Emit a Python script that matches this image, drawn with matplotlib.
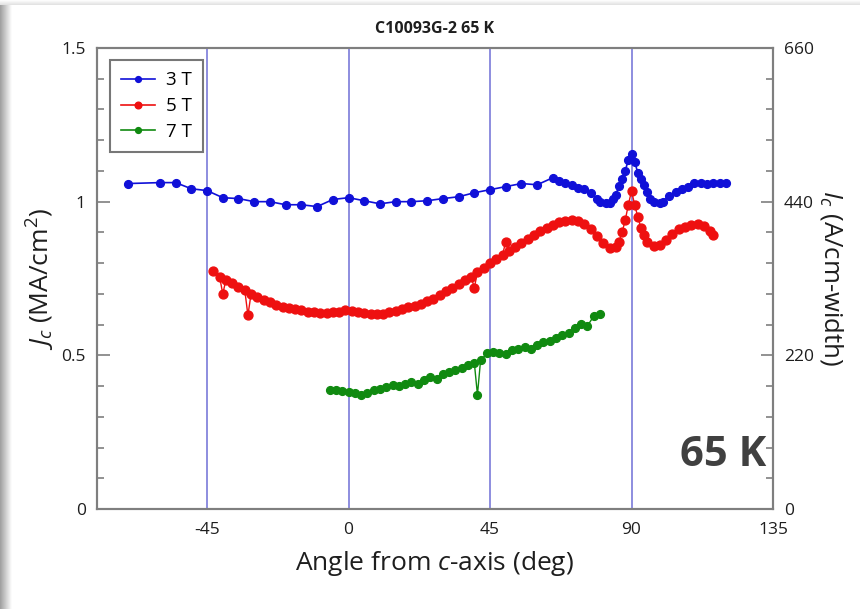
import numpy as np
import matplotlib
matplotlib.use("Agg")
import matplotlib.pyplot as plt
from matplotlib.ticker import MultipleLocator, FixedLocator

# ---------------- data ----------------
angle_3T = [-70, -60, -55, -50, -45, -40, -35, -30, -25, -20, -15, -10, -5, 0, 5, 10, 15, 20, 25,
            30, 35, 40, 45, 50, 55, 60, 65, 67, 69, 71, 73, 75, 77, 79, 80, 82, 83, 84, 85, 86,
            87, 88, 89, 90, 91, 92, 93, 94, 95, 96, 97, 99, 100, 102, 104, 106, 108, 110, 112,
            114, 116, 118, 120]
jc_3T = [1.059, 1.062, 1.062, 1.042, 1.036, 1.013, 1.010, 1.000, 1.000, 0.990, 0.990, 0.984, 1.007,
         1.013, 1.003, 0.993, 1.000, 1.000, 1.003,
         1.010, 1.016, 1.029, 1.039, 1.049, 1.059, 1.055, 1.078, 1.068, 1.062, 1.055, 1.046, 1.040,
         1.029, 1.010, 1.000, 0.997, 0.997, 1.010, 1.023, 1.050, 1.075, 1.100, 1.137, 1.155, 1.130,
         1.094, 1.075, 1.055, 1.030, 1.010, 1.000, 0.997, 1.000, 1.020, 1.030, 1.040, 1.049, 1.060,
         1.062, 1.059, 1.060, 1.062, 1.060]

angle_5T = [-43, -41, -40, -39, -37, -35, -33, -32, -31, -29, -27, -25, -23, -21, -19, -17, -15, -13,
            -11, -9, -7, -5, -3, -1, 1, 3, 5, 7, 9, 11, 13, 15, 17, 19, 21, 23, 25, 27, 29, 31, 33,
            35, 37, 39, 40, 41, 43, 45, 47, 49, 50, 51, 53, 55, 57, 59, 61, 63, 65, 67, 69, 71, 73,
            75, 77, 79, 81, 83, 85, 86, 87, 88, 89, 90, 91, 92, 93, 94, 95, 97, 99, 101, 103, 105,
            107, 109, 111, 113, 115, 116]
jc_5T = [0.775, 0.755, 0.700, 0.745, 0.735, 0.722, 0.712, 0.630, 0.700, 0.690, 0.680, 0.672, 0.665,
         0.658, 0.654, 0.650, 0.646, 0.642, 0.640, 0.638, 0.639, 0.640, 0.642, 0.648, 0.645, 0.640,
         0.638, 0.636, 0.634, 0.636, 0.640, 0.645, 0.650, 0.656, 0.662, 0.668, 0.676, 0.684, 0.695,
         0.708, 0.720, 0.732, 0.744, 0.756, 0.720, 0.770, 0.785, 0.800, 0.815, 0.828, 0.870, 0.840,
         0.852, 0.866, 0.880, 0.893, 0.905, 0.915, 0.925, 0.933, 0.938, 0.940, 0.936, 0.926, 0.910,
         0.888, 0.866, 0.850, 0.852, 0.870, 0.900, 0.940, 0.990, 1.035, 0.990, 0.950, 0.915, 0.890,
         0.870, 0.855, 0.858, 0.875, 0.895, 0.910, 0.918, 0.925, 0.928, 0.920, 0.905, 0.890]

angle_7T = [-6, -4, -2, 0, 2, 4, 6, 8, 10, 12, 14, 16, 18, 20, 22, 24, 26, 28, 30, 32, 34, 36, 38,
            40, 41, 42, 44, 46, 48, 50, 52, 54, 56, 58, 60, 62, 64, 66, 68, 70, 72, 74, 76, 78, 80]
jc_7T = [0.388, 0.386, 0.384, 0.382, 0.378, 0.372, 0.378, 0.386, 0.392, 0.396, 0.404, 0.400, 0.408,
         0.414, 0.408, 0.420, 0.428, 0.424, 0.440, 0.446, 0.452, 0.460, 0.468, 0.476, 0.372, 0.484,
         0.506, 0.512, 0.508, 0.504, 0.516, 0.520, 0.526, 0.522, 0.534, 0.542, 0.548, 0.556, 0.566,
         0.574, 0.590, 0.602, 0.596, 0.628, 0.636]

series_labels = ["3 T", "5 T", "7 T"]
series_colors = ["#1010d8", "#ee1010", "#108a10"]
ref_angles = [-45, 0, 45, 90]
x_ticks = [-45, 0, 45, 90, 135]
left_ticks = [0, 0.5, 1, 1.5]
left_tick_labels = ["0", "0.5", "1", "1.5"]
right_ticks = [0, 220, 440, 660]
right_tick_labels = ["0", "220", "440", "660"]

# ---------------- figure ----------------
FONT = ['Open Sans', 'DejaVu Sans']
plt.rcParams['font.family'] = FONT
plt.rcParams['mathtext.fontset'] = 'custom'
plt.rcParams['mathtext.it'] = 'Open Sans:italic'
plt.rcParams['mathtext.rm'] = 'Open Sans'
fig = plt.figure(figsize=(8.6, 6.09), dpi=100)
fig.patch.set_facecolor("white")

# slide-like shadow on left and top edges
grad = np.linspace(0.62, 1.0, 64)[None, :]
ax_sh = fig.add_axes([0, 0, 12 / 860, 1])
ax_sh.imshow(np.repeat(grad, 2, axis=0), cmap="gray", vmin=0, vmax=1, aspect="auto",
             extent=[0, 1, 0, 1])
ax_sh.axis("off")
ax_sht = fig.add_axes([0, 1 - 5 / 609, 1, 5 / 609])
ax_sht.imshow(np.repeat(np.linspace(1.0, 0.88, 16)[:, None], 2, axis=1), cmap="gray", vmin=0,
              vmax=1, aspect="auto", extent=[0, 1, 0, 1])
ax_sht.axis("off")

ax = fig.add_axes([97 / 860, 100 / 609, 676 / 860, 461 / 609])
spine_col = "#7f7f7f"
txt_col = "#1e1e1e"

for a in ref_angles:
    ax.axvline(a, color="#6f6fd6", lw=1.1, zorder=1)

ax.plot(angle_3T, jc_3T, "-o", color=series_colors[0], ms=5.6, lw=1.2, label=series_labels[0], zorder=3)
ax.plot(angle_5T, jc_5T, "-o", color=series_colors[1], ms=6.4, lw=1.0, label=series_labels[1], zorder=3)
ax.plot(angle_7T, jc_7T, "-o", color=series_colors[2], ms=5.6, lw=1.0, label=series_labels[2], zorder=3)

ax.set_xlim(-80, 135)
ax.set_ylim(0, 1.5)
ax.xaxis.set_major_locator(FixedLocator(x_ticks))
ax.set_xticklabels([str(v) for v in x_ticks])
ax.yaxis.set_major_locator(FixedLocator(left_ticks))
ax.set_yticklabels(left_tick_labels)
ax.yaxis.set_minor_locator(MultipleLocator(0.1))
ax.tick_params(axis="x", length=0, labelsize=12.5, pad=9, colors=txt_col)
ax.tick_params(axis="y", which="both", direction="in", color=spine_col, labelsize=12.5,
               labelcolor=txt_col, pad=8)
ax.tick_params(axis="y", which="major", length=9, width=1.2)
ax.tick_params(axis="y", which="minor", length=5, width=1.2)
for s in ax.spines.values():
    s.set_color(spine_col)
    s.set_linewidth(1.5)

ax2 = ax.twinx()
ax2.set_ylim(0, 660)
ax2.yaxis.set_major_locator(FixedLocator(right_ticks))
ax2.set_yticklabels(right_tick_labels)
ax2.yaxis.set_minor_locator(MultipleLocator(44))
ax2.tick_params(axis="y", which="both", direction="in", color=spine_col, labelsize=12.5,
                labelcolor=txt_col, pad=8)
ax2.tick_params(axis="y", which="major", length=9, width=1.2)
ax2.tick_params(axis="y", which="minor", length=5, width=1.2)
for s in ax2.spines.values():
    s.set_color(spine_col)
    s.set_linewidth(1.5)

ax.set_xlabel("Angle from $c$-axis (deg)", fontsize=19, color=txt_col, labelpad=8)
ax.set_ylabel(r"$J_c$ (MA/cm$^2$)", fontsize=19, color=txt_col, labelpad=3)
ax2.set_ylabel(r"$I_c$ (A/cm-width)", fontsize=18.5, color=txt_col, rotation=-90, labelpad=22)

ax.set_title("C10093G-2 65 K", fontsize=11.5, fontweight="bold", color=txt_col, pad=11)

leg = ax.legend(loc="upper left", bbox_to_anchor=(0.019, 0.974), borderaxespad=0, fontsize=13.5,
                frameon=True, fancybox=False, edgecolor="#555555", handlelength=1.8,
                handletextpad=0.6, borderpad=0.6, labelspacing=0.42, markerscale=0.75)
leg.get_frame().set_linewidth(1.5)
for h in leg.get_lines():
    h.set_linewidth(1.2)

fig.text(766 / 860, 1 - 456 / 609, "65 K", fontsize=30, fontweight="bold", color="#404040",
         family=["Open Sans", "DejaVu Sans"], ha="right", va="center")

fig.savefig("out.png", dpi=100, facecolor="white")
